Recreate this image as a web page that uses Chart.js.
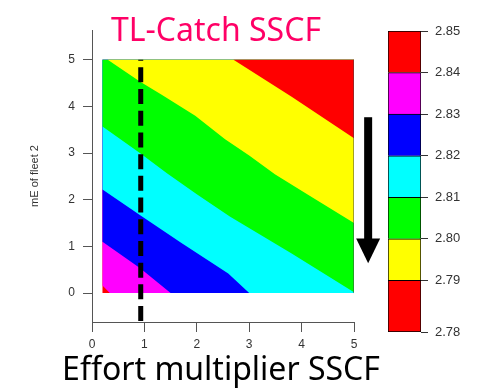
<!DOCTYPE html>
<html>
<head>
<meta charset="utf-8">
<script src="https://cdn.jsdelivr.net/npm/chart.js@4.4.1/dist/chart.umd.min.js"></script>
<style>
body{margin:0;background:#fff;}
#wrap{position:relative;width:477px;height:389px;}
#wrap canvas{position:absolute;top:0;}
</style>
</head>
<body>
<div id="wrap">
<canvas id="plot" width="477" height="389" style="left:0"></canvas>
<canvas id="key" width="97" height="389" style="left:380px"></canvas>
</div>
<script>
// contour levels (TL of catch) and the colour of each band, low -> high
const levels = [2.7776, 2.79, 2.80, 2.81, 2.82, 2.83, 2.84, 2.85];
const bandColors = ['#FF0000', '#FFFF00', '#00FF00', '#00FFFF', '#0000FF', '#FF00FF', '#FF0000'];

// extent of the effort grid
const gridX = [0.2, 5];
const gridY = [0, 5];

// contour lines as [x, y], one per level 2.79 .. 2.84
const line279 = [[2.70, 5], [3.81, 4.21], [5, 3.32]];
const line280 = [[0.30, 5], [0.92, 4.53], [1.33, 4.25], [1.97, 3.80], [2.54, 3.30], [3.0, 2.95], [3.49, 2.55], [4.13, 2.10], [5, 1.50]];
const line281 = [[0.2, 3.57], [0.92, 3.0], [1.43, 2.57], [2.0, 2.12], [2.63, 1.64], [3.81, 0.85], [5, 0.02]];
const line282 = [[0.2, 2.22], [0.92, 1.67], [1.7, 1.08], [2.6, 0.42], [3.0, 0]];
const line283 = [[0.2, 1.10], [0.92, 0.53], [1.5, 0]];
const line284 = [[0.2, 0.16], [0.34, 0]];
const contourLines = [line279, line280, line281, line282, line283, line284];

const xTicks = [0, 1, 2, 3, 4, 5];
const yTicks = [0, 1, 2, 3, 4, 5];
const currentEffort = 0.93;   // dashed line
const arrowX = 5.27, arrowTop = 3.77, arrowHead = 1.17, arrowTip = 0.64;

const chartTitle = 'TL-Catch SSCF';
const xTitle = 'Effort multiplier SSCF';
const yTitle = 'mE of fleet 2';

Chart.defaults.font.family = '"Liberation Sans", Arial, sans-serif';

function pts(arr) {
    return arr.map(p => ({x: p[0], y: p[1]}));
}

// area on the upper-right side of a contour line, clipped to the grid
function regionAbove(line) {
    const out = pts(line);
    const first = line[0], last = line[line.length - 1];
    if (first[1] < gridY[1]) out.unshift({x: gridX[0], y: gridY[1]});
    if (last[0] < gridX[1]) out.push({x: gridX[1], y: gridY[0]});
    out.push({x: gridX[1], y: gridY[1]});
    return out;
}

function band(data, color, order) {
    return {
        data: data, backgroundColor: color, borderWidth: 0, pointRadius: 0,
        fill: 'shape', order: order
    };
}

var datasets = [];
// base: top band over the whole grid
datasets.push(band([
    {x: gridX[0], y: gridY[1]}, {x: gridX[0], y: gridY[0]},
    {x: gridX[1], y: gridY[0]}, {x: gridX[1], y: gridY[1]}
], bandColors[6], 20));
for (let k = contourLines.length - 1; k >= 0; k--) {
    datasets.push(band(regionAbove(contourLines[k]), bandColors[k], k + 3));
}
datasets.push({
    data: pts([[gridX[1], gridY[0]], [gridX[1], gridY[1]]]),
    borderColor: '#444', borderWidth: 1, pointRadius: 0, fill: false, order: 1
});
datasets.push({
    data: pts([[currentEffort, -0.6], [currentEffort, gridY[1]]]),
    borderColor: '#000', borderWidth: 5, borderDash: [15, 6.7], borderCapStyle: 'butt',
    pointRadius: 0, fill: false, order: 0
});

const overlay = {
    id: 'overlay',
    afterDraw(chart) {
        const ctx = chart.ctx, x = chart.scales.x, y = chart.scales.y;
        ctx.save();
        ctx.font = '32px "Noto Sans"';
        ctx.textAlign = 'center';
        ctx.textBaseline = 'alphabetic';
        ctx.fillStyle = '#FF0066';
        ctx.fillText(chartTitle, 216, 41);
        ctx.fillStyle = '#000';
        ctx.fillText(xTitle, 221, 380);

        const ax = x.getPixelForValue(arrowX);
        const top = y.getPixelForValue(arrowTop);
        const head = y.getPixelForValue(arrowHead);
        const tip = y.getPixelForValue(arrowTip);
        ctx.fillRect(ax - 4, top, 8, head - top + 1);
        ctx.beginPath();
        ctx.moveTo(ax - 12, head);
        ctx.lineTo(ax + 12, head);
        ctx.lineTo(ax, tip);
        ctx.closePath();
        ctx.fill();
        ctx.restore();
    }
};

new Chart(document.getElementById('plot'), {
    type: 'line',
    data: {datasets: datasets},
    plugins: [overlay],
    options: {
        responsive: false,
        animation: false,
        devicePixelRatio: 1,
        events: [],
        layout: {padding: {left: 0, right: 123, top: 30, bottom: 0}},
        plugins: {legend: {display: false}, tooltip: {enabled: false}},
        scales: {
            x: {
                type: 'linear', min: 0, max: 5,
                afterBuildTicks: s => { s.ticks = xTicks.map(v => ({value: v})); },
                afterFit: s => { s.height = 67; },
                grid: {drawOnChartArea: false, tickLength: 10, color: '#555'},
                border: {color: '#555'},
                ticks: {padding: 5, color: '#333', font: {size: 12}, maxRotation: 0}
            },
            y: {
                type: 'linear', min: -0.62, max: 5.64,
                afterBuildTicks: s => { s.ticks = yTicks.map(v => ({value: v})); },
                afterFit: s => { s.width = 92; },
                grid: {drawOnChartArea: false, tickLength: 9, color: '#555'},
                border: {color: '#555'},
                ticks: {padding: 8, color: '#333', font: {size: 12}},
                title: {
                    display: true, text: yTitle, color: '#333',
                    font: {size: 11}, padding: {top: 28, bottom: 0}
                }
            }
        }
    }
});

// colour key
new Chart(document.getElementById('key'), {
    type: 'bar',
    data: {
        labels: [''],
        datasets: bandColors.map((c, i) => ({
            data: [[levels[i], levels[i + 1]]],
            backgroundColor: c,
            borderColor: '#000',
            borderWidth: i === 0 ? 1 : {top: 1, left: 1, right: 1, bottom: 0},
            borderSkipped: false,
            barPercentage: 1,
            categoryPercentage: 1,
            grouped: false
        }))
    },
    options: {
        responsive: false,
        animation: false,
        devicePixelRatio: 1,
        events: [],
        layout: {padding: {left: 8, right: 0, top: 31, bottom: 57}},
        plugins: {legend: {display: false}, tooltip: {enabled: false}},
        scales: {
            x: {display: false},
            y: {
                position: 'right', min: levels[0], max: levels[levels.length - 1],
                afterBuildTicks: s => { s.ticks = levels.map(v => ({value: v})); },
                afterFit: s => { s.width = 56; },
                grid: {drawOnChartArea: false, tickLength: 7, color: '#333'},
                border: {display: false},
                ticks: {padding: 7, color: '#333', font: {size: 13}, callback: v => v.toFixed(2)}
            }
        }
    }
});
</script>
</body>
</html>
